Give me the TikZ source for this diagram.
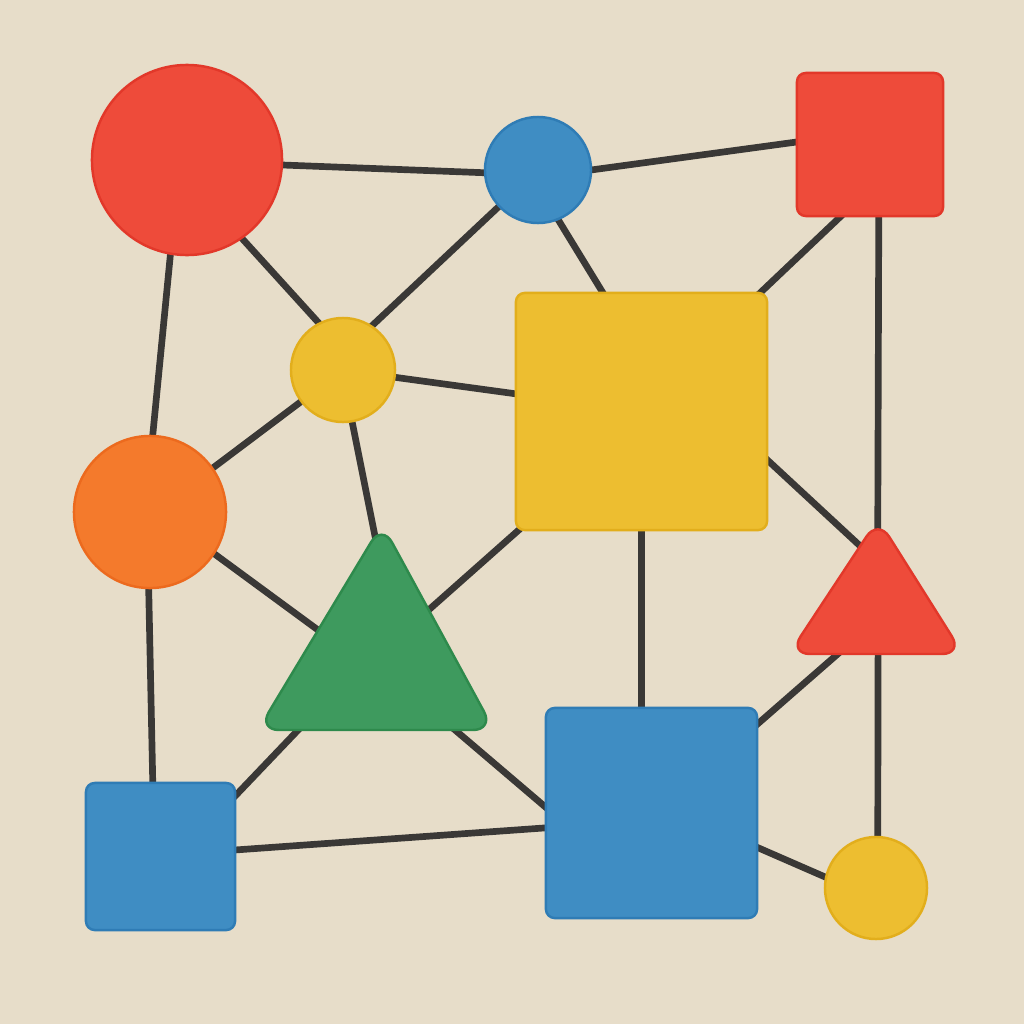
\documentclass[tikz,border=0pt]{standalone}
\usetikzlibrary{calc}
\definecolor{paper}{HTML}{E7DDC9}
\definecolor{ink}{HTML}{3A3836}
\definecolor{cred}{HTML}{EE4B3A}
\definecolor{credd}{HTML}{E2382A}
\definecolor{cblue}{HTML}{3F8DC3}
\definecolor{cblued}{HTML}{2F7CB5}
\definecolor{cyel}{HTML}{EDBE30}
\definecolor{cyeld}{HTML}{E2AE1C}
\definecolor{corange}{HTML}{F47A2C}
\definecolor{coranged}{HTML}{EC6A1E}
\definecolor{cgreen}{HTML}{3E9A5E}
\definecolor{cgreend}{HTML}{2E8A4C}
\pgfdeclarelayer{edgelayer}
\pgfdeclarelayer{paperlayer}
\pgfsetlayers{paperlayer,edgelayer,main}
\begin{document}
\begin{tikzpicture}[x=0.01cm,y=-0.01cm,
  edge/.style={draw=ink, line width=1.9pt, shorten <=-4pt, shorten >=-4pt},
  blob/.style={circle, inner sep=0pt, outer sep=0pt, line width=0.7pt},
  box/.style={rectangle, rounded corners=2.5pt, inner sep=0pt, outer sep=0pt, line width=0.7pt},
  tri/.style={rounded corners=6pt, line width=0.7pt}]
\useasboundingbox (0,0) rectangle (1024,1024);
\begin{pgfonlayer}{paperlayer}
\fill[paper] (0,0) rectangle (1024,1024);
\end{pgfonlayer}
% circles and squares
\node[blob, fill=cred, draw=credd, minimum size=1.90cm] (rc) at (187,160) {};
\node[blob, fill=cblue, draw=cblued, minimum size=1.06cm] (bc) at (538,170) {};
\node[box, fill=cred, draw=credd, minimum width=1.46cm, minimum height=1.43cm] (rs) at (870,144.5) {};
\node[blob, fill=cyel, draw=cyeld, minimum size=1.04cm] (yc) at (343,370) {};
\node[box, fill=cyel, draw=cyeld, minimum width=2.51cm, minimum height=2.37cm] (ys) at (641.5,411.5) {};
\node[blob, fill=corange, draw=coranged, minimum size=1.52cm] (oc) at (150,512) {};
\node[box, fill=cblue, draw=cblued, minimum width=1.49cm, minimum height=1.47cm] (bs) at (160.5,856.5) {};
\node[box, fill=cblue, draw=cblued, minimum width=2.11cm, minimum height=2.10cm] (bb) at (651.5,813) {};
\node[blob, fill=cyel, draw=cyeld, minimum size=1.02cm] (yb) at (876,888) {};
% triangles
\coordinate (gtA) at (382,524);
\coordinate (gtL) at (258,730);
\coordinate (gtR) at (494,730);
\coordinate (gtC) at (378,661);
\draw[tri, fill=cgreen, draw=cgreend] (gtA) -- (gtR) -- (gtL) -- cycle;
\coordinate (rtA) at (878,519);
\coordinate (rtL) at (789,654);
\coordinate (rtR) at (963,654);
\coordinate (rtC) at (877,609);
\draw[tri, fill=cred, draw=credd] (rtA) -- (rtR) -- (rtL) -- cycle;
% connectors
\begin{pgfonlayer}{edgelayer}
\draw[edge] (rc.-3) -- (bc.183);
\draw[edge] (bc.0) -- (rs.178.8);
\draw[edge] (rc.-55.8) -- (yc.117);
\draw[edge] (rc.-100) -- (oc.88.5);
\draw[edge] (bc.-137) -- (yc.57);
\draw[edge] (bc.-68) -- (ys.108.4);
\draw[edge] (rs.-112.8) -- (ys.45.7);
\draw[edge] (rs.-83.6) -- ($(rtA)!0.3!(rtC)$);
\draw[edge] (yc.-8.7) -- (ys.172.5);
\draw[edge] (yc.-143) -- (oc.35);
\draw[edge] (yc.-80) -- ($(gtA)!0.3!(gtC)$);
\draw[edge] (ys.-136.2) -- ($(gtA)!0.417!(gtR)$);
\draw[edge] (ys.-21.1) -- ($(rtA)!0.2!(rtL)$);
\draw[edge] (ys.south) -- (ys.south |- bb.north);
\draw[edge] (oc.-33.5) -- ($(gtA)!0.515!(gtL)$);
\draw[edge] (oc.-91.5) -- (bs.96.6);
\draw[edge] ($(gtL)!0.17!(gtR)$) -- (bs.39.5);
\draw[edge] ($(gtL)!0.835!(gtR)$) -- (bb.177.3);
\draw[edge] (bs.5) -- (bb.188.1);
\draw[edge] ($(rtL)!0.28!(rtR)$) -- (bb.40.8);
\draw[edge] ($(rtL)!0.512!(rtR)$) -- (yb.88);
\draw[edge] (bb.-18.4) -- (yb.168);
\end{pgfonlayer}
\end{tikzpicture}
\end{document}
